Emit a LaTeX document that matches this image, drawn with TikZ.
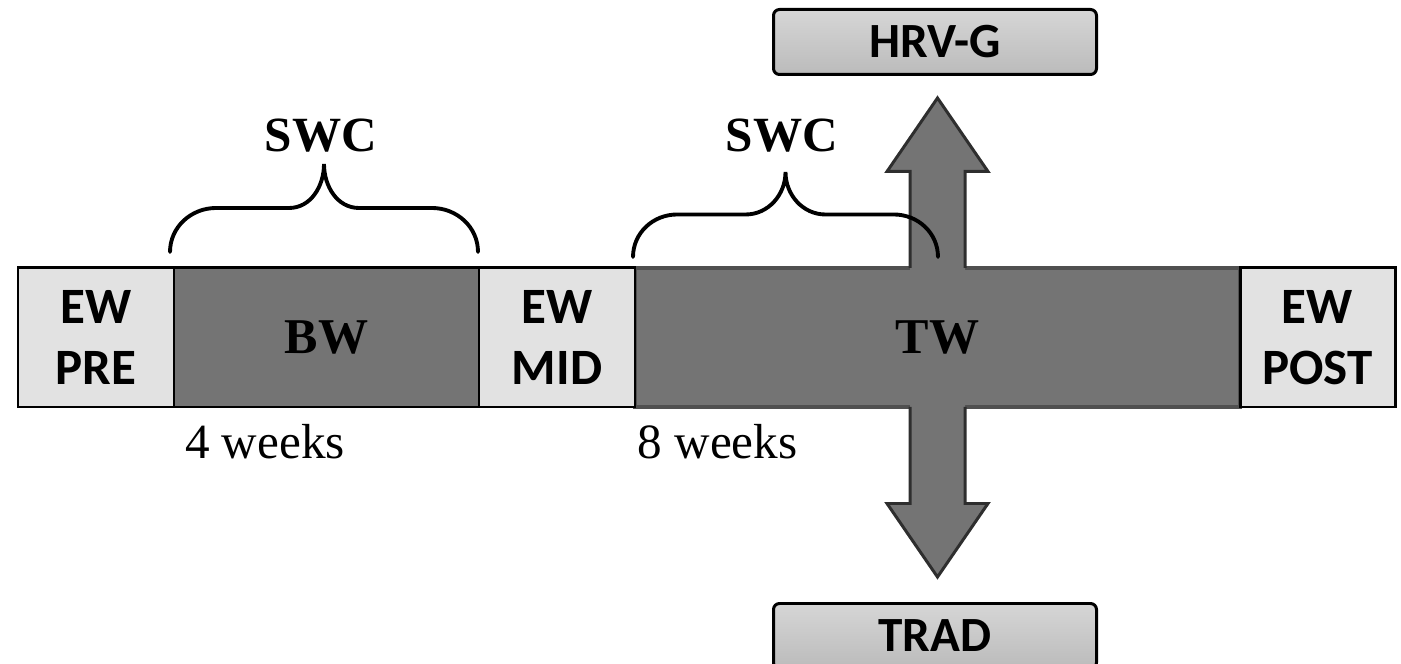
\documentclass[tikz,border=0pt]{standalone}
\usepackage{fontspec}
\setmainfont{Liberation Serif}
\newfontfamily\calfont{Carlito}
\usetikzlibrary{positioning}
\definecolor{ewgray}{HTML}{E2E2E2}
\definecolor{blockgray}{HTML}{747474}
\definecolor{twedge}{HTML}{505050}
\definecolor{arrowedge}{HTML}{2E2E2E}
\definecolor{tabtop}{HTML}{D6D6D6}
\definecolor{tabbottom}{HTML}{BBBBBB}

\begin{document}
\begin{tikzpicture}[
    phase/.style={draw,line width=1.7pt,minimum height=2.78cm,outer sep=0pt,inner sep=0pt,align=center},
    ew/.style={phase,fill=ewgray,font=\calfont\bfseries\fontsize{29}{35}\selectfont},
    block/.style={phase,fill=blockgray,font=\bfseries\fontsize{28.5}{34}\selectfont},
    armbox/.style={draw,line width=1.7pt,rounded corners=0.12cm,top color=tabtop,bottom color=tabbottom,
        minimum width=6.46cm,minimum height=1.30cm,font=\calfont\bfseries\fontsize{28}{34}\selectfont},
    swc/.style={font=\bfseries\fontsize{28}{34}\selectfont,anchor=base},
    weeks/.style={font=\fontsize{28}{34}\selectfont,anchor=base},
    bracestroke/.style={line width=2.2pt,line cap=round},
    arrowline/.style={draw=arrowedge,line width=1.7pt}
]
\useasboundingbox (0,0) rectangle (28.02,13.28);

% training block with the two-way split
\node[block,draw=twedge,line width=2.4pt,minimum width=12.10cm] (tw) at (18.75,6.53) {};
\begin{scope}[shift={(tw.center)}]
\fill[blockgray] (-0.55,-3.32) -- (-0.55,3.32) -- (-1.01,3.32) -- (0,4.79) -- (1.01,3.32) -- (0.55,3.32)
    -- (0.55,-3.32) -- (1.01,-3.32) -- (0,-4.79) -- (-1.01,-3.32) -- cycle;
\draw[arrowline] (-0.55,1.39) -- (-0.55,3.32) -- (-1.01,3.32) -- (0,4.79) -- (1.01,3.32) -- (0.55,3.32) -- (0.55,1.39);
\draw[arrowline] (-0.55,-1.39) -- (-0.55,-3.32) -- (-1.01,-3.32) -- (0,-4.79) -- (1.01,-3.32) -- (0.55,-3.32) -- (0.55,-1.39);
\end{scope}
\node[font=\bfseries\fontsize{28.5}{34}\selectfont] (twtext) at (tw.center) {TW};

\node[ew,minimum width=3.12cm,left=0pt of tw] (ewmid) {EW\\MID};
\node[block,minimum width=6.10cm,left=0pt of ewmid] (bw) {BW};
\node[ew,minimum width=3.12cm,left=0pt of bw] (ewpre) {EW\\PRE};
\node[ew,minimum width=3.10cm,right=0pt of tw] (ewpost) {EW\\POST};

\node[armbox] (hrv) at (18.70,12.44) {HRV-G};
\node[armbox] (trad) at (18.70,0.56) {TRAD};

% braces
\draw[bracestroke] (3.40,8.24) to[out=90,in=180] (4.32,9.12) -- (5.78,9.12) to[out=0,in=-90] (6.48,10.00)
    to[out=-90,in=180] (7.18,9.12) -- (8.64,9.12) to[out=0,in=90] (9.56,8.24);
\draw[bracestroke] (12.66,8.14) to[out=90,in=180] (13.54,8.99) -- (14.91,8.99) to[out=0,in=-90] (15.71,9.84)
    to[out=-90,in=180] (16.51,8.99) -- (17.88,8.99) to[out=0,in=90] (18.76,8.14);

\node[swc] (swca) at (6.42,10.24) {SWC};
\node[swc] (swcb) at (15.64,10.24) {SWC};
\node[weeks] (weeksa) at (5.30,4.10) {4 weeks};
\node[weeks] (weeksb) at (14.35,4.10) {8 weeks};
\end{tikzpicture}
\end{document}
